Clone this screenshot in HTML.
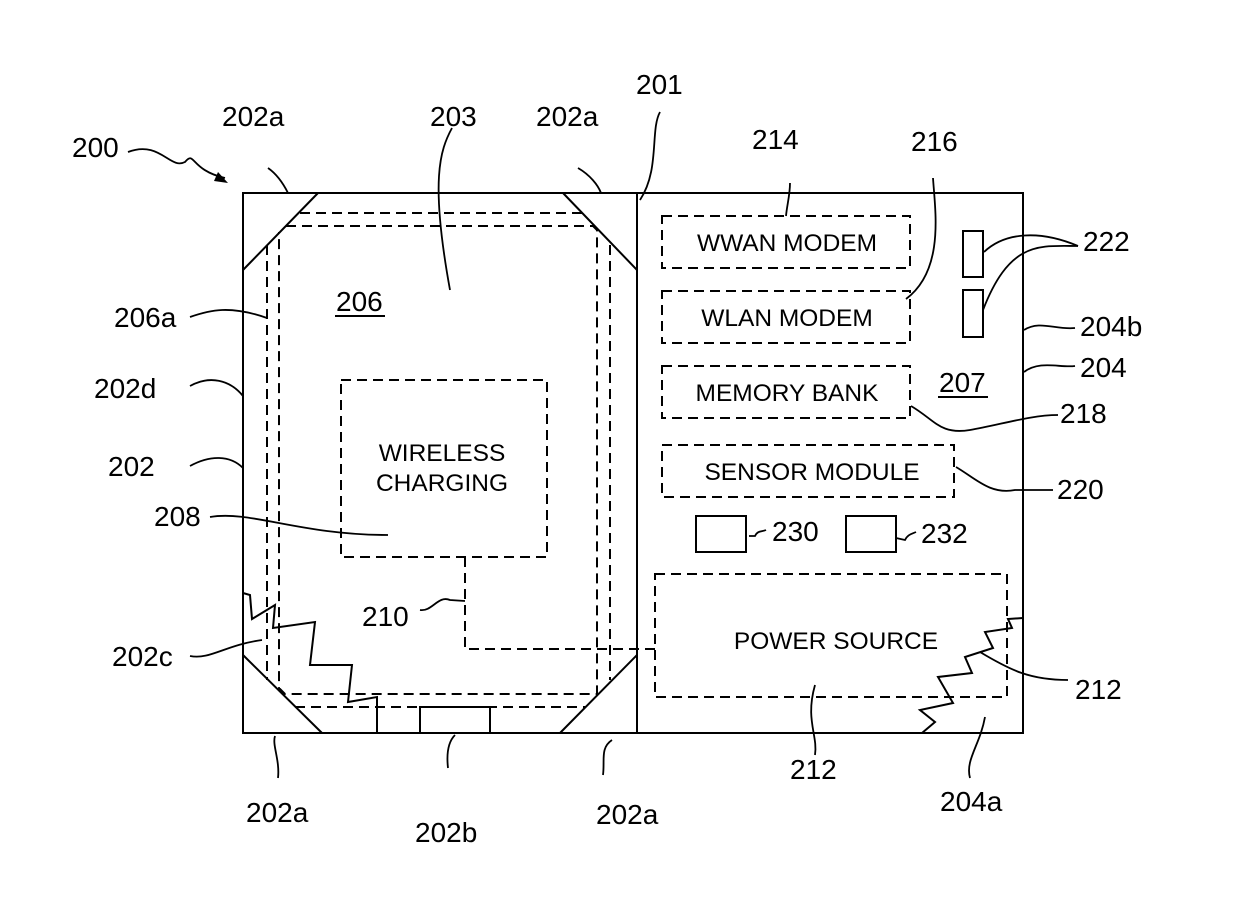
<!DOCTYPE html>
<html><head><meta charset="utf-8"><style>
html,body{margin:0;padding:0;background:#fff}
svg{display:block}
text{font-family:"Liberation Sans",Arial,sans-serif;fill:#000}
</style></head><body>
<svg width="1240" height="920" viewBox="0 0 1240 920" xmlns="http://www.w3.org/2000/svg">
<g fill="none" stroke="#000" stroke-width="2">
<rect x="243" y="193" width="780" height="540"/>
<line x1="637" y1="193" x2="637" y2="733"/>
<line x1="318" y1="193" x2="243" y2="270"/>
<line x1="563" y1="193" x2="637" y2="270"/>
<line x1="243" y1="655" x2="322" y2="733"/>
<line x1="560" y1="733" x2="637" y2="655"/>
<polyline points="420,733 420,707 490,707 490,733"/>
<polyline points="243,593 250,595 252,619 275,605 273,628 315,622 310,665 352,665 348,702 377,697 377,733"/>
<polyline points="1023,618 1008,619 1012,628 985,632 993,648 965,657 972,673 938,677 953,703 920,710 935,722 922,733"/>
<rect x="963" y="231" width="20" height="46"/>
<rect x="963" y="290" width="20" height="47"/>
<rect x="696" y="516" width="50" height="36"/>
<rect x="846" y="516" width="50" height="36"/>
</g>
<g fill="none" stroke="#000" stroke-width="2" stroke-dasharray="10,6">
<polyline points="300,213 583,213"/>
<polyline points="267,245 267,680"/>
<polyline points="610,245 610,680"/>
<polyline points="295,707 585,707"/>
<polyline points="286,226 593,226 597,230 597,694 285,694 279,688 279,232"/>
<rect x="341" y="380" width="206" height="177"/>
<rect x="662" y="216" width="248" height="52"/>
<rect x="662" y="291" width="248" height="52"/>
<rect x="662" y="366" width="248" height="52"/>
<rect x="662" y="445" width="292" height="52"/>
<rect x="655" y="574" width="352" height="123"/>
<polyline points="465,557 465,649 655,649"/>
</g>
<g fill="none" stroke="#000" stroke-width="1.8">
<path d="M128,152 C160,140 170,170 185,162 C195,150 190,170 225,178"/>
<path d="M268,168 C278,175 284,185 288,193"/>
<path d="M452,128 C440,150 430,180 450,290"/>
<path d="M578,168 C590,175 598,185 601,193"/>
<path d="M660,112 C650,130 660,170 640,200"/>
<path d="M790,183 C790,195 787,205 786,216"/>
<path d="M933,178 C935,210 945,270 906,299"/>
<path d="M1078,246 C1040,230 1005,232 984,252"/>
<path d="M1078,246 C1040,246 1010,240 983,310"/>
<path d="M1024,330 C1040,320 1055,330 1075,328"/>
<path d="M1024,372 C1040,360 1060,368 1075,366"/>
<path d="M911,406 C935,420 940,435 970,430 C1000,425 1030,415 1058,415"/>
<path d="M956,467 C975,478 990,495 1015,490 L1053,490"/>
<path d="M749,536 L755,536 C758,530 762,532 766,530"/>
<path d="M896,538 L905,540 C908,534 912,534 916,532"/>
<path d="M420,610 C432,612 438,595 450,600 L465,601"/>
<path d="M190,317 C210,310 230,305 267,318"/>
<path d="M190,386 C210,375 230,380 243,396"/>
<path d="M190,466 C210,455 230,455 243,468"/>
<path d="M190,656 C210,660 225,645 262,640"/>
<path d="M210,517 C250,510 300,535 388,535"/>
<path d="M278,778 C280,760 272,745 275,736"/>
<path d="M448,768 C446,750 450,740 455,735"/>
<path d="M603,775 C605,760 600,748 612,740"/>
<path d="M815,755 C818,735 805,720 815,685"/>
<path d="M970,778 C965,760 980,745 985,717"/>
<path d="M1068,680 C1030,680 1010,670 980,652"/>
</g>
<g font-size="28">
<text x="72" y="157">200</text>
<text x="222" y="126">202a</text>
<text x="430" y="126">203</text>
<text x="536" y="126">202a</text>
<text x="636" y="94">201</text>
<text x="752" y="149">214</text>
<text x="911" y="151">216</text>
<text x="1083" y="251">222</text>
<text x="1080" y="336">204b</text>
<text x="1080" y="377">204</text>
<text x="1060" y="423">218</text>
<text x="1057" y="499">220</text>
<text x="772" y="541">230</text>
<text x="921" y="543">232</text>
<text x="1075" y="699">212</text>
<text x="790" y="779">212</text>
<text x="940" y="811">204a</text>
<text x="596" y="824">202a</text>
<text x="415" y="842">202b</text>
<text x="246" y="822">202a</text>
<text x="112" y="666">202c</text>
<text x="362" y="626">210</text>
<text x="154" y="526">208</text>
<text x="108" y="476">202</text>
<text x="94" y="398">202d</text>
<text x="114" y="327">206a</text>
<text x="336" y="311">206</text>
<text x="939" y="392">207</text>
</g>
<line x1="335" y1="316" x2="385" y2="316" stroke="#000" stroke-width="2"/>
<line x1="938" y1="397" x2="988" y2="397" stroke="#000" stroke-width="2"/>
<g font-size="24.5" text-anchor="middle">
<text x="442" y="461">WIRELESS</text>
<text x="442" y="491">CHARGING</text>
<text x="787" y="251">WWAN MODEM</text>
<text x="787" y="326">WLAN MODEM</text>
<text x="787" y="401">MEMORY BANK</text>
<text x="812" y="480">SENSOR MODULE</text>
<text x="836" y="649">POWER SOURCE</text>
</g>
<path d="M218,172 L228,183 L214,181 Z" fill="#000"/>
</svg>
</body></html>
